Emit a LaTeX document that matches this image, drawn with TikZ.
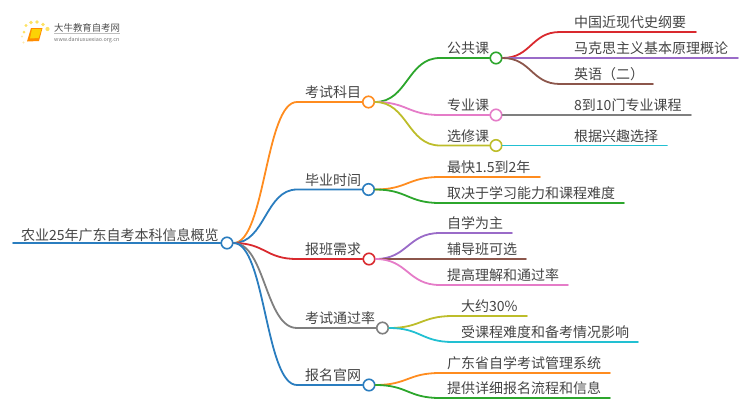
\documentclass[tikz,border=0pt]{standalone}
\usepackage{fontspec}
\setmainfont{Noto Sans CJK SC}
\usetikzlibrary{calc}
\definecolor{cBlue}{HTML}{2A7DBF}
\definecolor{cOrange}{HTML}{FF8C1F}
\definecolor{cGreen}{HTML}{2CA62C}
\definecolor{cPink}{HTML}{E57CC8}
\definecolor{cOlive}{HTML}{BDBD2A}
\definecolor{cCyan}{HTML}{22C0D2}
\definecolor{cRed}{HTML}{D9292E}
\definecolor{cPurple}{HTML}{9A6BC8}
\definecolor{cBrown}{HTML}{8C564B}
\definecolor{cGrey}{HTML}{7F7F7F}
\definecolor{cText}{HTML}{444444}
\tikzset{
  x=1pt,y=-1pt,
  lab/.style={anchor=base west,inner sep=0pt,text=cText,font=\fontsize{14}{14}\selectfont},
  dotnode/.style={circle,draw=#1,fill=white,line width=1.6pt,minimum size=11.5pt,inner sep=0pt},
  lnk/.style={draw=#1,line width=1.8pt,line cap=round},
  logodot/.style={fill=#1,draw=none},
}
\newcommand{\curvelink}[4]{% from, curve end, line end, colour
  \draw[lnk=#4] (#1.east) .. controls ($(#1.east)!0.5!(#1.east -| #2)$) and ($(#1.east |- #2)!0.5!(#2)$) .. (#2) -- (#3);}
\begin{document}
\begin{tikzpicture}
\useasboundingbox (0,0) rectangle (750,410);
% logo
\fill[logodot=yellow!70!orange!60] (24,32) circle (1.5) (26,25.5) circle (1.6) (31,22.5) circle (1.8) (37,22) circle (1.9) (43,24.5) circle (1.9) (47.5,29) circle (2.1);
\fill[logodot=yellow!50!orange!30] (22,36.5) circle (1.2) (23.5,42.5) circle (1.1);
\fill[orange!90!yellow] (31,28) -- (42.5,28) -- (39,41) -- (27,41.5) -- cycle;
\fill[yellow!70!orange] (32,29) -- (41.5,29) -- (38.5,38) -- (30,38.5) -- cycle;
\node[anchor=base west,inner sep=0pt,text=black!70,font=\fontsize{9.4}{9.4}\selectfont] (logoa) at (54,31) {大牛教育自考网};
\draw[black!25,line width=.5pt] (54,33.5) -- (120,33.5);
\node[anchor=base west,inner sep=0pt,text=black!55,font=\fontsize{5.4}{5.4}\selectfont] (logob) at (54,41) {www.daniuxuexiao.org.cn};

% circles
\node[dotnode=cBlue] (root) at (227,243) {};
\node[dotnode=cOrange] (a) at (368.5,102) {};
\node[dotnode=cBlue] (b) at (368.5,189.5) {};
\node[dotnode=cRed] (c) at (369,259) {};
\node[dotnode=cGrey] (d) at (382.5,328) {};
\node[dotnode=cBlue] (e) at (369,385) {};
\node[dotnode=cGreen] (a1) at (496,58) {};
\node[dotnode=cPink] (a2) at (496,115) {};
\node[dotnode=cOlive] (a3) at (496,145.5) {};

% free ends
\foreach \n/\x/\y in {
 rs/13/243, ca/297/102, cb/297/189.5, cc/297/259, cd/297/328, ce/297/385,
 ca1/440/58, ca2/440/115, ca3/440/145.5,
 l1c/560/32, l1e/696/32, l2c/560/58, l2e/738/58, l3c/560/84, l3e/653/84,
 l4e/691/115, l5e/667/145.5,
 b1c/440/177, b1e/540/177, b2c/440/203, b2e/624/203,
 c1c/440/233, c1e/512/233, c2c/440/259, c2e/526/259, c3c/440/285, c3e/568/285,
 d1c/453/316, d1e/527/316, d2c/453/342, d2e/638/342,
 e1c/440/373, e1e/610/373, e2c/440/398, e2e/610/398}
 {\coordinate (\n) at (\x,\y);}

% root stem
\draw[lnk=cBlue] (rs) -- (root.west);
% level 1
\curvelink{root}{ca}{a.west}{cOrange}
\curvelink{root}{cb}{b.west}{cBlue}
\curvelink{root}{cc}{c.west}{cRed}
\curvelink{root}{cd}{d.west}{cGrey}
\curvelink{root}{ce}{e.west}{cBlue}
% level 2
\curvelink{a}{ca1}{a1.west}{cGreen}
\curvelink{a}{ca2}{a2.west}{cPink}
\curvelink{a}{ca3}{a3.west}{cOlive}
% leaves
\curvelink{a1}{l1c}{l1e}{cRed}
\draw[lnk=cPurple] (a1.east) -- (l2e);
\curvelink{a1}{l3c}{l3e}{cBrown}
\draw[lnk=cGrey] (a2.east) -- (l4e);
\draw[lnk=cCyan] (a3.east) -- (l5e);
\curvelink{b}{b1c}{b1e}{cOrange}
\curvelink{b}{b2c}{b2e}{cGreen}
\curvelink{c}{c1c}{c1e}{cPurple}
\draw[lnk=cBrown] (c.east) -- (c2e);
\curvelink{c}{c3c}{c3e}{cPink}
\curvelink{d}{d1c}{d1e}{cOlive}
\curvelink{d}{d2c}{d2e}{cCyan}
\curvelink{e}{e1c}{e1e}{cOrange}
\curvelink{e}{e2c}{e2e}{cGreen}

% labels
\node[lab] (troot) at (21,240) {农业25年广东自考本科信息概览};
\node[lab] (ta) at (305,97.5) {考试科目};
\node[lab] (tb) at (305,185) {毕业时间};
\node[lab] (tc) at (305,254.5) {报班需求};
\node[lab] (td) at (305,323.5) {考试通过率};
\node[lab] (te) at (305,380.5) {报名官网};
\node[lab] (ta1) at (447,53.5) {公共课};
\node[lab] (ta2) at (447,110.5) {专业课};
\node[lab] (ta3) at (447,141) {选修课};
\node[lab] (t1) at (574,27.5) {中国近现代史纲要};
\node[lab] (t2) at (574,53.5) {马克思主义基本原理概论};
\node[lab] (t3) at (574,79.5) {英语（二）};
\node[lab] (t4) at (574,110.5) {8到10门专业课程};
\node[lab] (t5) at (574,141) {根据兴趣选择};
\node[lab] (tb1) at (447,172.5) {最快1.5到2年};
\node[lab] (tb2) at (447,198.5) {取决于学习能力和课程难度};
\node[lab] (tc1) at (447,228.5) {自学为主};
\node[lab] (tc2) at (447,254.5) {辅导班可选};
\node[lab] (tc3) at (447,280.5) {提高理解和通过率};
\node[lab] (td1) at (461,311.5) {大约30\%};
\node[lab] (td2) at (461,337.5) {受课程难度和备考情况影响};
\node[lab] (te1) at (447,368.5) {广东省自学考试管理系统};
\node[lab] (te2) at (447,393.5) {提供详细报名流程和信息};
\end{tikzpicture}
\end{document}
